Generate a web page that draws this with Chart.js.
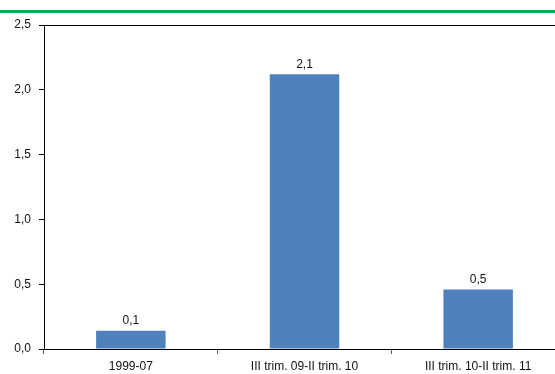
<!DOCTYPE html>
<html>
<head>
<meta charset="utf-8">
<script src="https://cdn.jsdelivr.net/npm/chart.js@4/dist/chart.umd.min.js"></script>
<style>
  html, body { margin: 0; padding: 0; background: #fff; overflow: hidden; width: 555px; height: 374px; }
  #wrap { position: relative; width: 570px; height: 374px; }
  #rule { position: absolute; left: 0; top: 10px; width: 555px; height: 3px; background: #00B050; }
</style>
</head>
<body>
<div id="wrap">
  <canvas id="c" width="570" height="374"></canvas>
  <div id="rule"></div>
</div>
<script>
// Periods and average growth values (%)
const categories = ['1999-07', 'III trim. 09-II trim. 10', 'III trim. 10-II trim. 11'];
const values = [0.14, 2.12, 0.46];
const yTicks = [0, 0.5, 1.0, 1.5, 2.0, 2.5];

const fmt = v => v.toFixed(1).replace('.', ',');

// Writes each bar's value above it
const valueLabels = {
  id: 'valueLabels',
  afterDatasetsDraw(chart) {
    const ctx = chart.ctx;
    const meta = chart.getDatasetMeta(0);
    ctx.save();
    ctx.font = '12px "Liberation Sans", Arial, sans-serif';
    ctx.fillStyle = '#111';
    ctx.textAlign = 'center';
    ctx.textBaseline = 'bottom';
    meta.data.forEach((bar, i) => {
      ctx.fillText(fmt(values[i]), bar.x, bar.y - 4);
    });
    ctx.restore();
  }
};

Chart.defaults.font.family = '"Liberation Sans", Arial, sans-serif';
Chart.defaults.font.size = 12;
Chart.defaults.color = '#111';

new Chart(document.getElementById('c'), {
  type: 'bar',
  data: {
    labels: categories,
    datasets: [{
      data: values,
      backgroundColor: '#4F81BD',
      borderWidth: 0,
      categoryPercentage: 1,
      barPercentage: 0.4
    }]
  },
  options: {
    responsive: false,
    animation: false,
    events: [],
    layout: { padding: { top: 25, right: 5, left: 0, bottom: 0 } },
    plugins: { legend: { display: false }, tooltip: { enabled: false } },
    scales: {
      x: {
        offset: true,
        grid: {
          offset: true,
          drawOnChartArea: false,
          tickLength: 5,
          tickColor: '#555',
          tickWidth: 1
        },
        border: { color: '#000', width: 1 },
        ticks: { padding: 5, maxRotation: 0, autoSkip: false },
        afterFit(scale) { scale.height = 25; }
      },
      y: {
        min: 0,
        max: 2.5,
        afterBuildTicks(scale) { scale.ticks = yTicks.map(v => ({ value: v })); },
        grid: {
          color: c => (c.tick && c.tick.value === 2.5) ? '#000' : 'rgba(0,0,0,0)',
          tickColor: '#000',
          tickLength: 5,
          lineWidth: 1
        },
        border: { color: '#000', width: 1 },
        ticks: { padding: 8, callback: v => fmt(v) },
        afterFit(scale) { scale.width = 44; }
      }
    }
  },
  plugins: [valueLabels]
});
</script>
</body>
</html>
